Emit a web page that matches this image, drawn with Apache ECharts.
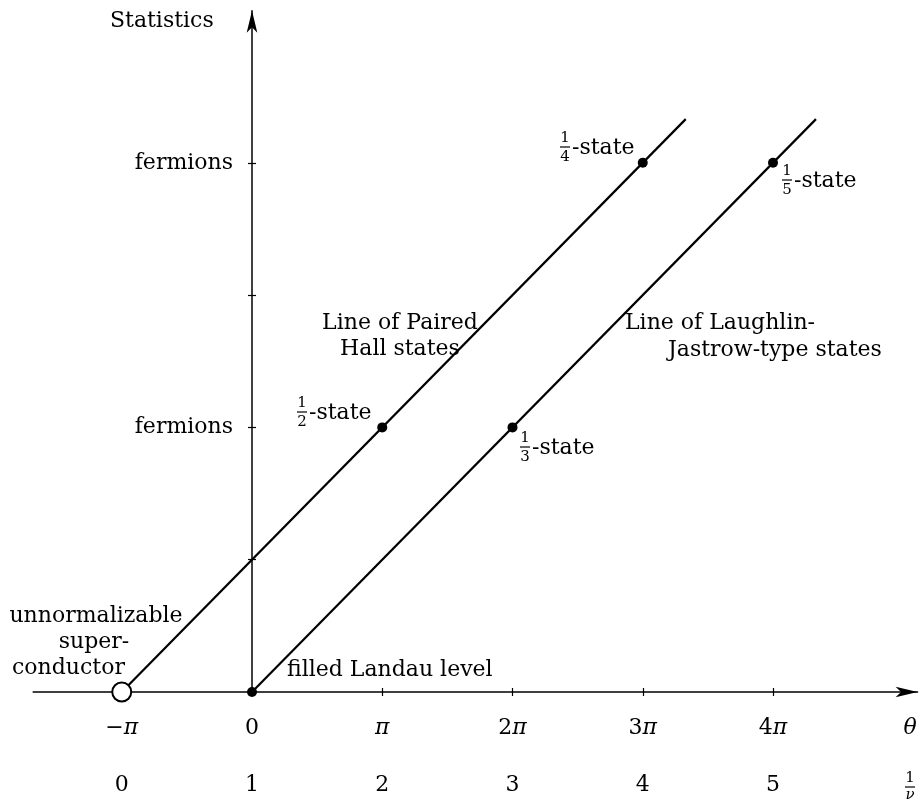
<!DOCTYPE html>
<html><head><meta charset="utf-8">
<script src="https://cdn.jsdelivr.net/npm/echarts@6/dist/echarts.min.js"></script>
<style>html,body{margin:0;padding:0;background:#fff}#c{width:922px;height:801px}</style>
</head><body><div id="c"></div>
<script>
// ---- data (theta in units of pi, statistics in tick units) ----
const thetaTicks = [-1, 0, 1, 2, 3, 4];
const thetaLabels = ['−π', '0', 'π', '2π', '3π', '4π'];
const nuLabels = ['0', '1', '2', '3', '4', '5'];
const statTicks = [1, 2, 3, 4];
const statLabelValues = [2, 4];
const statLabelTexts = ['fermions', 'fermions'];

const pairedTheta = [-1, 3.33];
const pairedStat = [0, 4.33];
const laughlinTheta = [0, 4.33];
const laughlinStat = [0, 4.33];
const stateTheta = [1, 3, 2, 4, 0];
const stateStat = [2, 4, 2, 4, 0];
const scTheta = [-1];
const scStat = [0];

const FONT = 'DejaVu Serif';
const zip = (a, b) => a.map((v, i) => [v, b[i]]);

function fracState(x, base, num, den, word) {
  const els = [
    {type:'text', style:{text:num, x:x+5, y:base-17, font:'15px "'+FONT+'"', fill:'#000', align:'center', verticalAlign:'middle'}},
    {type:'line', shape:{x1:x, y1:base-8, x2:x+10, y2:base-8}, style:{stroke:'#000', lineWidth:1.2}},
    {type:'text', style:{text:den, x:x+5, y:base+2, font:'15px "'+FONT+'"', fill:'#000', align:'center', verticalAlign:'middle'}}
  ];
  if (word) els.push({type:'text', style:{text:word, x:x+12, y:base-7, font:'22px "'+FONT+'"', fill:'#000', align:'left', verticalAlign:'middle'}});
  return els;
}
function txt(t, x, y, align, extra) {
  return {type:'text', style:Object.assign({text:t, x:x, y:y, font:'22px "'+FONT+'"', fill:'#000', align:align||'left', verticalAlign:'middle'}, extra||{})};
}

const xmin = -1.68, xmax = 5.11, ymin = 0, ymax = 5.15;
const pxX = 130.25, pxY = 132.3, x0 = 252, y0 = 692;
const yOffset = xmin * pxX; // shifts the y axis from the grid edge to theta = 0

const chart = echarts.init(document.getElementById('c'), null, {renderer:'canvas'});
const graphics = [].concat(
  [txt('Statistics', 110, 21),
   txt('unnormalizable', 96, 616, 'center'),
   txt('super-', 94, 642, 'center'),
   txt('conductor', 12, 668),
   txt('filled Landau level', 287, 670),
   txt('Line of Paired', 400, 323, 'center'),
   txt('Hall states', 400, 349, 'center'),
   txt('Line of Laughlin-', 625, 323),
   txt('Jastrow-type states', 668, 350),
   {type:'text', style:{text:'θ', x:910, y:728, font:'italic 22px "'+FONT+'"', fill:'#000', align:'center', verticalAlign:'middle'}}],
  fracState(297, 420, '1', '2', '-state'),
  fracState(520, 455, '1', '3', '-state'),
  fracState(560, 155, '1', '4', '-state'),
  fracState(782, 188, '1', '5', '-state'),
  [{type:'text', style:{text:'1', x:910, y:778, font:'15px "'+FONT+'"', fill:'#000', align:'center', verticalAlign:'middle'}},
   {type:'line', shape:{x1:905, y1:787, x2:915, y2:787}, style:{stroke:'#000', lineWidth:1.2}},
   {type:'text', style:{text:'ν', x:910, y:795, font:'italic 15px "'+FONT+'"', fill:'#000', align:'center', verticalAlign:'middle'}}]
);

const option = {
  animation: false,
  backgroundColor: '#fff',
  grid: {left: x0 + xmin*pxX, width: (xmax-xmin)*pxX, top: y0 - ymax*pxY, height: (ymax-ymin)*pxY, containLabel:false, outerBoundsMode:'none'},
  xAxis: [
    {type:'value', min:xmin, max:xmax,
     axisLine:{show:true, onZero:false, symbol:['none','arrow'], symbolSize:[8,22], lineStyle:{color:'#000', width:1.5}},
     axisTick:{show:true, customValues:thetaTicks, length:4, lineStyle:{color:'#000', width:1.2}},
     axisLabel:{show:true, customValues:thetaTicks, margin:25, color:'#000', fontFamily:FONT, fontSize:22,
       formatter:(v)=>{const i=thetaTicks.indexOf(v); return i<0?'':thetaLabels[i].replace('π','{p|π}');},
       rich:{p:{fontFamily:FONT, fontSize:22, fontStyle:'italic', color:'#000'}}},
     splitLine:{show:false}},
    {type:'value', min:xmin, max:xmax, position:'bottom',
     axisLine:{show:false, onZero:false},
     axisTick:{show:true, inside:true, customValues:thetaTicks, length:4, lineStyle:{color:'#000', width:1.2}},
     axisLabel:{show:true, customValues:thetaTicks, margin:82, color:'#000', fontFamily:FONT, fontSize:22,
       formatter:(v)=>{const i=thetaTicks.indexOf(v); return i<0?'':nuLabels[i];}},
     splitLine:{show:false}}
  ],
  yAxis: [
    {type:'value', min:ymin, max:ymax, position:'left', offset:yOffset,
     axisLine:{show:true, onZero:false, symbol:['none','arrow'], symbolSize:[8,22], lineStyle:{color:'#000', width:1.5}},
     axisTick:{show:true, customValues:statTicks, length:4, lineStyle:{color:'#000', width:1.2}},
     axisLabel:{show:true, customValues:statLabelValues, margin:19, color:'#000', fontFamily:FONT, fontSize:22,
       formatter:(v)=>{const i=statLabelValues.indexOf(v); return i<0?'':statLabelTexts[i];}},
     splitLine:{show:false}},
    {type:'value', min:ymin, max:ymax, position:'left', offset:yOffset,
     axisLine:{show:false, onZero:false},
     axisTick:{show:true, inside:true, customValues:statTicks, length:4, lineStyle:{color:'#000', width:1.2}},
     axisLabel:{show:false},
     splitLine:{show:false}}
  ],
  series: [
    {type:'line', name:'paired', data:zip(pairedTheta, pairedStat), showSymbol:false, symbol:'none', lineStyle:{color:'#000', width:2.2}, z:2},
    {type:'line', name:'laughlin', data:zip(laughlinTheta, laughlinStat), showSymbol:false, symbol:'none', lineStyle:{color:'#000', width:2.2}, z:2},
    {type:'scatter', name:'states', data:zip(stateTheta, stateStat), symbol:'circle', symbolSize:10, itemStyle:{color:'#000', opacity:1}, z:3},
    {type:'scatter', name:'superconductor', data:zip(scTheta, scStat), symbol:'circle', symbolSize:19, itemStyle:{color:'#fff', borderColor:'#000', borderWidth:2, opacity:1}, z:4}
  ],
  graphic: graphics
};
chart.setOption(option);
</script>
</body></html>
